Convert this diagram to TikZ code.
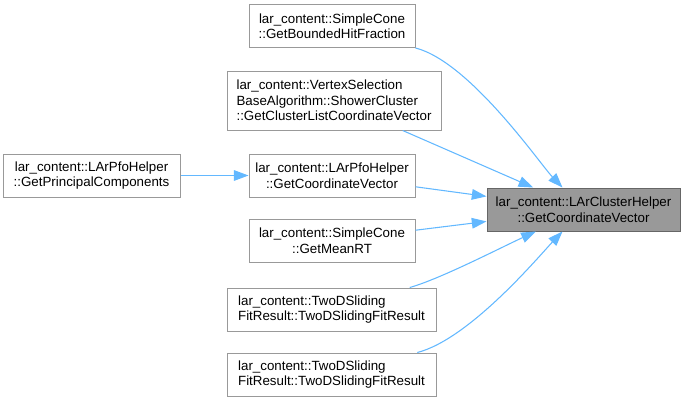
\documentclass[tikz,border=0pt]{standalone}
\usepackage{fontspec}
\setmainfont{Liberation Sans}
\usepackage{tikz}
\usetikzlibrary{arrows.meta,positioning,calc}
\definecolor{cEdge}{HTML}{63B8FF}
\definecolor{cBorder}{HTML}{999999}
\definecolor{cDark}{HTML}{666666}
\definecolor{cTarget}{HTML}{999999}
\tikzset{
  >={Triangle[length=11pt, width=8pt]},
  font=\fontsize{10}{11.6}\selectfont,
  fbox/.style={draw=cBorder, fill=white, line width=0.75pt, inner sep=0pt,
               minimum height=32.25pt, align=center},
  tbox/.style={fbox, draw=cDark, fill=cTarget},
  call/.style={->, draw=cEdge, line width=0.8pt},
}

\begin{document}
\begin{tikzpicture}[x=0.75pt, y=-0.75pt]
    \useasboundingbox (0,0) rectangle (684,403);
    % functions
    \node[fbox, minimum width=124.5pt] (cone1) at (332,26.5)
        {lar\_content::SimpleCone\\::GetBoundedHitFraction};
    \node[fbox, minimum width=160.5pt, minimum height=44.25pt, align=left] (vsel) at (334,100.5)
        {lar\_content::VertexSelection\\BaseAlgorithm::ShowerCluster\\::GetClusterListCoordinateVector};
    \node[fbox, minimum width=132.75pt] (pca) at (91.5,175.5)
        {lar\_content::LArPfoHelper\\::GetPrincipalComponents};
    \node[fbox, minimum width=124.5pt] (pfo) at (332,175.5)
        {lar\_content::LArPfoHelper\\::GetCoordinateVector};
    \node[tbox, minimum width=144.75pt] (target) at (583.5,209.5)
        {lar\_content::LArClusterHelper\\::GetCoordinateVector};
    \node[fbox, minimum width=124.5pt] (cone2) at (332,240.5)
        {lar\_content::SimpleCone\\::GetMeanRT};
    \node[fbox, minimum width=156.75pt, align=left] (fit1) at (331.5,309.5)
        {lar\_content::TwoDSliding\\FitResult::TwoDSlidingFitResult};
    \node[fbox, minimum width=156.75pt, align=left] (fit2) at (331.5,374.5)
        {lar\_content::TwoDSliding\\FitResult::TwoDSlidingFitResult};
    % calls
    \draw[call] (pca) -- (pfo);
    \draw[call] (cone1) .. controls (470,62) and (540,164) .. (target);
    \draw[call] (vsel) -- (target);
    \draw[call] (pfo) -- (target);
    \draw[call] (cone2) -- (target);
    \draw[call] (fit1) .. controls (440,279) and (500,248) .. (target);
    \draw[call] (fit2) .. controls (470,339) and (540,255) .. (target);
\end{tikzpicture}
\end{document}
